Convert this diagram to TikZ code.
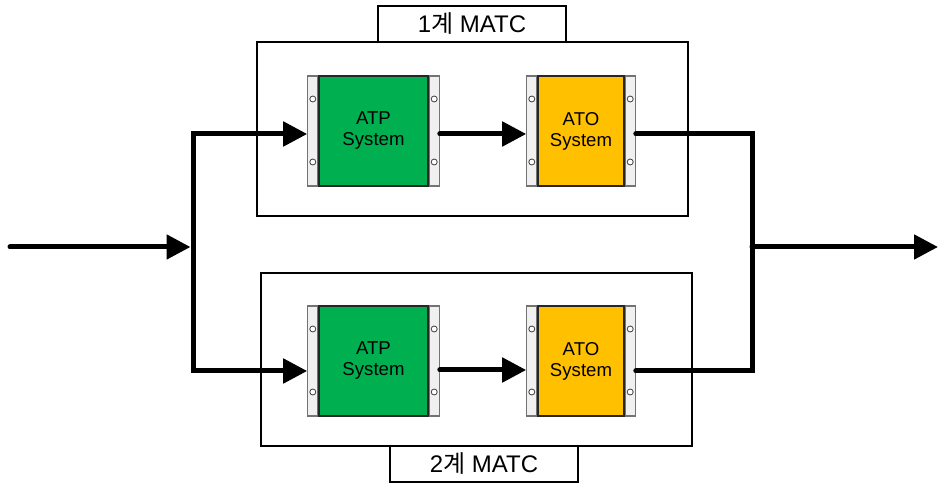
\documentclass[tikz,border=0pt]{standalone}
\usepackage{fontspec}
\setmainfont{Liberation Sans}
\newfontfamily\krfont{Noto Sans CJK KR}
\usetikzlibrary{arrows.meta,positioning,calc}
\definecolor{atpgreen}{RGB}{0,176,80}
\definecolor{atoyellow}{RGB}{255,192,0}
\definecolor{railgray}{RGB}{240,240,240}

\tikzset{
  sysbox/.style={draw=black!85, line width=0.6pt, minimum height=55pt, inner sep=0pt,
    align=center, font=\fontsize{9.3}{10.5}\selectfont},
  rail/.style={draw=black!55, fill=railgray, line width=0.6pt, minimum width=5pt,
    minimum height=55pt, inner sep=0pt},
  pinhole/.style={draw=black!75, fill=white, line width=0.4pt},
  frame/.style={draw, line width=0.7pt, inner sep=0pt},
  title/.style={draw, fill=white, line width=0.7pt, minimum width=94pt, minimum height=18pt,
    inner sep=0pt, font=\fontsize{12}{14}\selectfont},
  flow/.style={line width=2.5pt, line cap=round, line join=miter},
  tip/.style={-{Triangle[length=12pt,width=12pt]}},
}

% rails with two pin holes on both sides of a system block
\newcommand{\rails}[1]{%
  \node[rail, anchor=east] (#1-l) at (#1.west) {};
  \node[rail, anchor=west] (#1-r) at (#1.east) {};
  \foreach \s in {l,r}
    \foreach \dy in {-32,31}
      \draw[pinhole] ($(#1-\s.center)+(0,\dy)$) circle (1.5pt);
}

\begin{document}
\begin{tikzpicture}[x=0.5pt, y=-0.5pt]
\useasboundingbox (0,0) rectangle (938,485);
% ---- the two MATC frames
\node[frame, minimum width=215.5pt, minimum height=87pt] (matc1) at (472.5,129) {};
\node[frame, minimum width=215.5pt, minimum height=86.5pt] (matc2) at (476.5,359.5) {};
\node[title] (matc1-t) at (472,24) {1{\krfont 계} MATC};
\node[title] (matc2-t) at (484,464) {2{\krfont 계} MATC};
% ---- system blocks
\node[sysbox, fill=atpgreen, minimum width=54.5pt] (atp1) at (373.5,131) {ATP\\System};
\node[sysbox, fill=atoyellow, minimum width=43pt] (ato1) at (581,131) {ATO\\System};
\node[sysbox, fill=atpgreen, minimum width=54.5pt] (atp2) at (373.5,361) {ATP\\System};
\node[sysbox, fill=atoyellow, minimum width=43pt] (ato2) at (581,361) {ATO\\System};
\rails{atp1} \rails{ato1} \rails{atp2} \rails{ato2}
% ---- signal flow
\coordinate (src) at (10,247);
\coordinate (split) at (193,247);
\coordinate (merge) at (752,247);
\coordinate (dst) at (938,247);
\coordinate (row1) at (0,134);
\coordinate (row2) at (0,371);
\draw[flow, tip, shorten >=1.25pt] (src) -- (split);
\draw[flow, {Triangle[length=12pt,width=12pt]}-{Triangle[length=12pt,width=12pt]}]
  (atp1-l.west |- row1) -| (split) |- (atp2-l.west |- row2);
\draw[flow, tip] (atp1-r.east |- row1) -- (ato1-l.west |- row1);
\draw[flow, tip] (atp2-r.east |- 0,370) -- (ato2-l.west |- 0,370);
\draw[flow] (ato1-r.east |- row1) -| (merge) |- (ato2-r.east |- row2);
\draw[flow, tip] (merge) -- (dst);
\end{tikzpicture}
\end{document}
